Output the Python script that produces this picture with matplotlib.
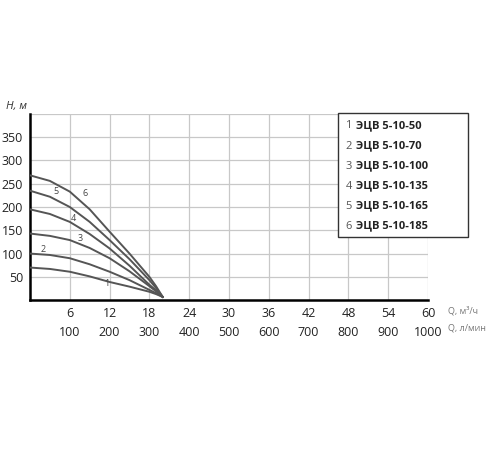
import matplotlib.pyplot as plt
from matplotlib.patches import Rectangle
import numpy as np

q = [0, 3, 6, 9, 12, 15, 18, 19, 20]
curves = {
    "1": [70, 67, 61, 51, 39, 29, 18, 13, 7],
    "2": [100, 97, 90, 77, 61, 43, 22, 15, 7],
    "3": [143, 138, 129, 112, 90, 62, 30, 19, 7],
    "4": [195, 185, 168, 142, 111, 74, 33, 21, 7],
    "5": [235, 222, 200, 168, 129, 88, 43, 26, 7],
    "6": [268, 256, 233, 195, 147, 100, 50, 30, 7],
}
label_pos = {"1": (11.5, 35), "2": (2.0, 108), "3": (7.5, 133), "4": (6.5, 175), "5": (3.9, 234), "6": (8.3, 228)}
legend_names = ["ЭЦВ 5-10-50", "ЭЦВ 5-10-70", "ЭЦВ 5-10-100", "ЭЦВ 5-10-135", "ЭЦВ 5-10-165", "ЭЦВ 5-10-185"]
xticks = [6, 12, 18, 24, 30, 36, 42, 48, 54, 60]
xticks_lmin = [100, 200, 300, 400, 500, 600, 700, 800, 900, 1000]
yticks = [50, 100, 150, 200, 250, 300, 350]

plt.rcParams['font.family'] = ['Open Sans', 'DejaVu Sans']
fig = plt.figure(figsize=(5, 4.5), dpi=100)
ax = fig.add_axes([0.06, 0.333, 0.796, 0.414])
ax.set_xlim(0, 60)
ax.set_ylim(0, 400)
for y in yticks + [400]:
    ax.axhline(y, color='#c8c8c8', lw=0.9, zorder=0)
for x in xticks:
    ax.axvline(x, color='#c8c8c8', lw=0.9, zorder=0)
for s in ['top', 'right']:
    ax.spines[s].set_visible(False)
for s in ['left', 'bottom']:
    ax.spines[s].set_linewidth(1.8)
ax.set_yticks(yticks)
ax.set_yticklabels([str(v) for v in yticks], fontsize=9, color='#222')
ax.set_xticks(xticks)
ax.set_xticklabels([f"{a}\n{b}" for a, b in zip(xticks, xticks_lmin)], fontsize=9, color='#222', linespacing=1.6)
ax.tick_params(length=0, pad=5)

for k, v in curves.items():
    ax.plot(q, v, color='#555', lw=1.4, zorder=3, solid_joinstyle='round')
    ax.text(*label_pos[k], k, fontsize=6.5, color='#444', ha='center', va='center')

ax.text(-0.4, 415, "Н, м", fontsize=8, style='italic', ha='right', va='center', color='#333', clip_on=False)
ax.text(63, -22, "Q, м³/ч", fontsize=6.5, ha='left', va='center', color='#777', clip_on=False)
ax.text(63, -60, "Q, л/мин", fontsize=6.5, ha='left', va='center', color='#777', clip_on=False)

fig.patches.append(Rectangle((0.676, 0.473), 0.26, 0.276, transform=fig.transFigure,
                             facecolor='white', edgecolor='#333', lw=1, zorder=5))
for i, name in enumerate(legend_names):
    y = 0.720 - i * 0.0445
    fig.text(0.692, y, f"{i+1} ", fontsize=8, color='#555', va='center', zorder=6)
    fig.text(0.712, y, name, fontsize=8, fontweight='bold', color='#222', va='center', zorder=6)

fig.savefig('out.png', dpi=100, facecolor='white')
